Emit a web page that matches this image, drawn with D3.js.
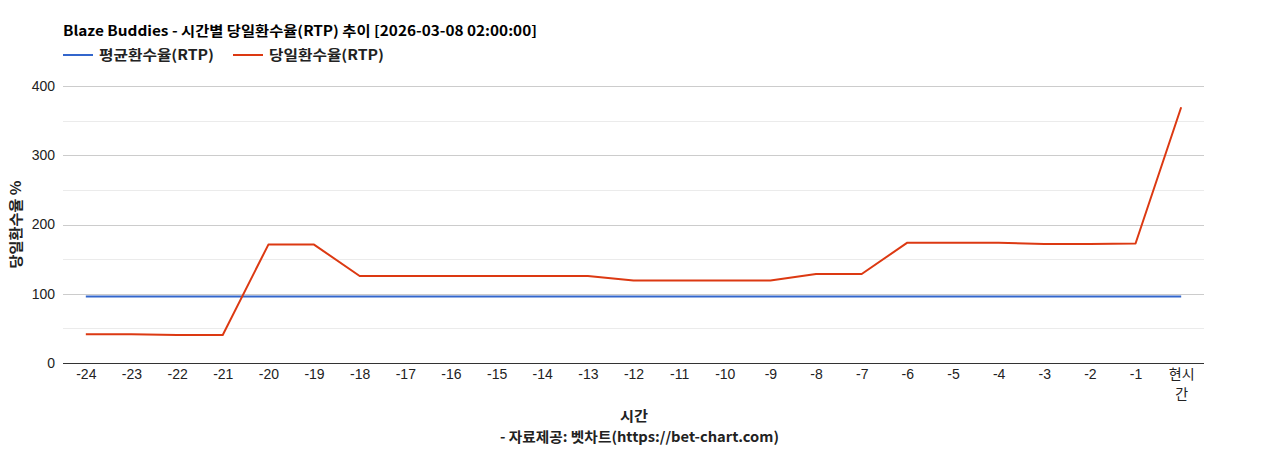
<!DOCTYPE html>
<html>
<head>
<meta charset="utf-8">
<script src="https://cdn.jsdelivr.net/npm/d3@7"></script>
<style>
  body { margin: 0; background: #fff; }
  svg { display: block; }
</style>
</head>
<body>
<div id="vis"></div>
<script>
const WIDTH = 1268;
const HEIGHT = 450;
const MARGIN = {left: 63, right: 64, top: 86, bottom: 87};

const KFONT = "'Noto Sans CJK KR', 'Liberation Sans', sans-serif";
const AFONT = "'Liberation Sans', Arial, 'Noto Sans CJK KR', sans-serif";

// data
const categories = ["-24", "-23", "-22", "-21", "-20", "-19", "-18", "-17", "-16", "-15",
                    "-14", "-13", "-12", "-11", "-10", "-9", "-8", "-7", "-6", "-5",
                    "-4", "-3", "-2", "-1", "현시간"];
const avgRtp = [96, 96, 96, 96, 96, 96, 96, 96, 96, 96, 96, 96, 96,
                96, 96, 96, 96, 96, 96, 96, 96, 96, 96, 96, 96];
const dayRtp = [41.5, 41.5, 40.5, 40.5, 171, 171, 125.6, 125.6, 125.6, 125.6,
                125.6, 125.6, 119, 119, 119, 119, 128.5, 128.5, 173.8, 173.8,
                173.6, 172, 172, 172.5, 369.3];
const yTicks = [0, 100, 200, 300, 400];
const yMinor = [50, 150, 250, 350];
const seriesNames = ["평균환수율(RTP)", "당일환수율(RTP)"];
const seriesColors = ["#3366cc", "#dc3912"];

const svg = d3.select("#vis")
  .append("svg")
    .attr("width", WIDTH)
    .attr("height", HEIGHT);

const X_SCALE = d3.scalePoint()
  .domain(categories)
  .range([MARGIN.left, WIDTH - MARGIN.right])
  .padding(0.5);

const Y_SCALE = d3.scaleLinear()
  .domain([0, 400])
  .range([HEIGHT - MARGIN.bottom, MARGIN.top]);

// gridlines
svg.append("g")
  .selectAll("line")
  .data(yMinor)
  .enter()
  .append("line")
    .attr("x1", MARGIN.left)
    .attr("x2", WIDTH - MARGIN.right)
    .attr("y1", d => Math.round(Y_SCALE(d)) + 0.5)
    .attr("y2", d => Math.round(Y_SCALE(d)) + 0.5)
    .attr("stroke", "#ebebeb");

svg.append("g")
  .selectAll("line")
  .data(yTicks.slice(1))
  .enter()
  .append("line")
    .attr("x1", MARGIN.left)
    .attr("x2", WIDTH - MARGIN.right)
    .attr("y1", d => Math.round(Y_SCALE(d)) + 0.5)
    .attr("y2", d => Math.round(Y_SCALE(d)) + 0.5)
    .attr("stroke", "#cccccc");

// y axis labels
const yAxis = svg.append("g")
  .attr("transform", "translate(" + MARGIN.left + ",0)")
  .call(d3.axisLeft(Y_SCALE).tickValues(yTicks).tickSize(0).tickPadding(8));
yAxis.select(".domain").remove();
yAxis.selectAll("text")
  .attr("font-family", AFONT)
  .attr("font-size", "14px")
  .attr("fill", "#222");

// lines
const line = (vals) => d3.line()
  .x((d, i) => X_SCALE(categories[i]))
  .y(d => Y_SCALE(d))(vals);

[avgRtp, dayRtp].forEach((vals, i) => {
  svg.append("path")
    .attr("d", line(vals))
    .attr("fill", "none")
    .attr("stroke", seriesColors[i])
    .attr("stroke-width", 2)
    .attr("stroke-linejoin", "round");
});

// x axis
const xAxis = svg.append("g")
  .attr("transform", "translate(0," + (HEIGHT - MARGIN.bottom) + ")")
  .call(d3.axisBottom(X_SCALE).tickSize(0).tickPadding(6));
xAxis.select(".domain").remove();
xAxis.selectAll("text")
  .attr("font-family", AFONT)
  .attr("font-size", "14px")
  .attr("fill", "#222")
  .each(function(d) {
    if (d === "현시간") {
      const t = d3.select(this).text(null);
      t.append("tspan").attr("x", 0).attr("dy", "0.71em").text("현시");
      t.append("tspan").attr("x", 0).attr("dy", "1.4em").text("간");
      t.attr("dy", null);
    }
  });

svg.append("line")
  .attr("x1", MARGIN.left)
  .attr("x2", WIDTH - MARGIN.right)
  .attr("y1", Math.round(Y_SCALE(0)) + 0.5)
  .attr("y2", Math.round(Y_SCALE(0)) + 0.5)
  .attr("stroke", "#333");

// bold text helper, stretched to the widths in the picture
const boldText = (x, y, str, len, anchor) => svg.append("text")
  .attr("x", x)
  .attr("y", y)
  .attr("text-anchor", anchor || "start")
  .attr("font-family", KFONT)
  .attr("font-size", "14px")
  .attr("font-weight", "bold")
  .attr("fill", "#222")
  .attr("textLength", len)
  .attr("lengthAdjust", "spacingAndGlyphs")
  .text(str);

// title
boldText(63, 36, "Blaze Buddies - 시간별 당일환수율(RTP) 추이 [2026-03-08 02:00:00]", 474)
  .attr("fill", "#000");

// legend
const legendX = [63, 233];
seriesNames.forEach((name, i) => {
  svg.append("line")
    .attr("x1", legendX[i]).attr("x2", legendX[i] + 30)
    .attr("y1", 55).attr("y2", 55)
    .attr("stroke", seriesColors[i])
    .attr("stroke-width", 2);
  boldText(legendX[i] + 36, 60, name, 115);
});

// axis titles
boldText(0, 0, "당일환수율 %", 88, "middle")
  .attr("transform", "translate(21," + ((MARGIN.top + HEIGHT - MARGIN.bottom) / 2) + ") rotate(-90)");

boldText(634, 421, "시간", 28, "middle");
boldText(639.5, 442, "- 자료제공: 벳차트(https://bet-chart.com)", 279, "middle");
</script>
</body>
</html>
